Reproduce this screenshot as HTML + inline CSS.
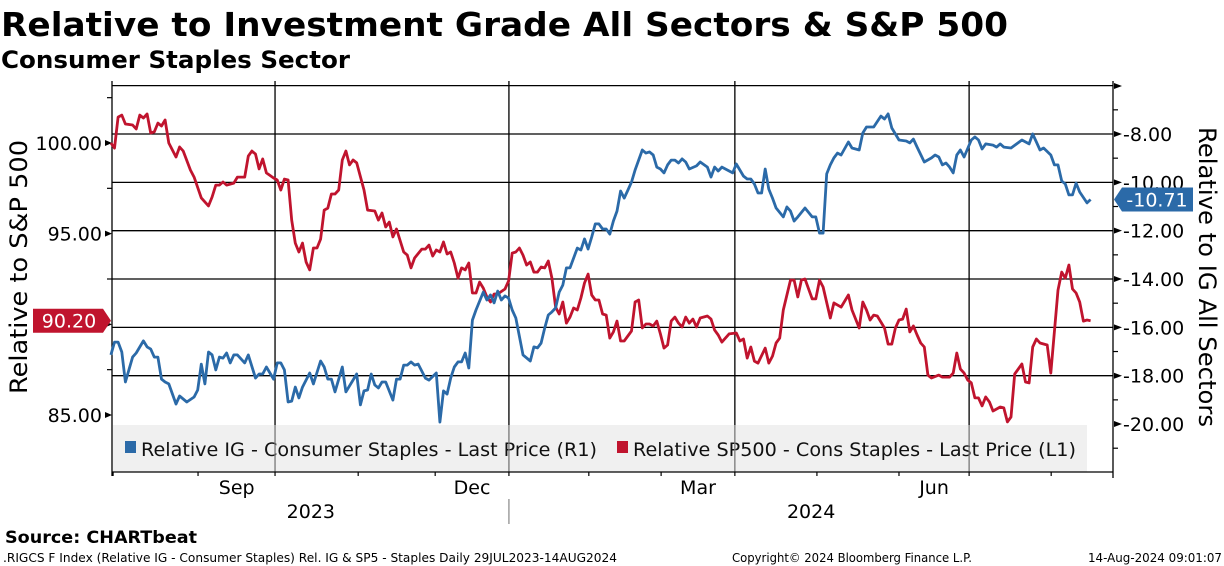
<!DOCTYPE html>
<html><head><meta charset="utf-8"><style>
html,body{margin:0;padding:0;background:#fff;}
svg{display:block;font-family:"DejaVu Sans","Liberation Sans",sans-serif;}
</style></head><body>
<svg id="chart" width="1224" height="566" viewBox="0 0 1224 566" xmlns="http://www.w3.org/2000/svg">
<rect x="0" y="0" width="1224" height="566" fill="#fff"/>
<text x="1" y="36" font-size="33" font-weight="bold" textLength="1007" lengthAdjust="spacingAndGlyphs">Relative to Investment Grade All Sectors &amp; S&amp;P 500</text>
<text x="1" y="68" font-size="24" font-weight="bold" textLength="349" lengthAdjust="spacingAndGlyphs">Consumer Staples Sector</text>
<g id="grid"></g>
<g id="legend">
  <rect x="113" y="425" width="974" height="47" fill="#f0f0f0"/>
  <g>
    <rect x="125" y="441" width="11" height="12" fill="#2b6aa8"/>
    <text x="141" y="456" font-size="19" fill="#111" textLength="456" lengthAdjust="spacingAndGlyphs">Relative IG - Consumer Staples - Last Price (R1)</text>
  </g>
  <g>
    <rect x="617" y="441" width="11" height="12" fill="#c0142e"/>
    <text x="633" y="456" font-size="19" fill="#111" textLength="443" lengthAdjust="spacingAndGlyphs">Relative SP500 - Cons Staples - Last Price (L1)</text>
  </g>
</g>
<g id="vgrid"></g>
<g id="axes"></g>
<g id="series"></g>
<g id="markers"></g>
<text transform="translate(27,394) rotate(-90)" font-size="24" textLength="254" lengthAdjust="spacingAndGlyphs">Relative to S&amp;P 500</text>
<text transform="translate(1199,127) rotate(90)" font-size="24" textLength="300" lengthAdjust="spacingAndGlyphs">Relative to IG All Sectors</text>
<text x="5" y="543" font-size="17" font-weight="bold" textLength="192" lengthAdjust="spacingAndGlyphs">Source: CHARTbeat</text>
<text x="3" y="562" font-size="12" textLength="614" lengthAdjust="spacingAndGlyphs">.RIGCS F Index (Relative IG - Consumer Staples) Rel. IG &amp; SP5 - Staples  Daily 29JUL2023-14AUG2024</text>
<text x="732" y="562" font-size="12" textLength="240" lengthAdjust="spacingAndGlyphs">Copyright© 2024 Bloomberg Finance L.P.</text>
<text x="1088" y="562" font-size="12" textLength="134" lengthAdjust="spacingAndGlyphs">14-Aug-2024 09:01:07</text>
</svg>
<script>
const redDays=[1,2,3,4,5,7,8,9,10,11,12,13,14,15,16,17,19,20,21,23,24,26,28,29,30,31,32,33,35,36,38,39,40,41,42,43,44,46,47,48,49,50,51,52,53,54,55,56,57,58,59,60,61,62,63,64,65,66,67,68,69,71,72,74,75,76,77,78,79,80,82,83,84,85,87,88,89,90,91,92,93,94,95,96,97,98,99,100,101,102,103,104,105,106,107,108,110,111,112,113,114,115,116,117,118,119,120,121,122,123,124,125,126,127,128,129,130,131,132,133,134,135,136,137,138,139,140,141,142,143,145,146,147,148,149,150,151,152,153,154,155,156,157,158,159,160,161,162,163,164,166,167,168,169,170,172,174,175,176,177,178,179,180,182,183,184,185,186,187,189,190,191,192,193,195,196,197,198,200,201,203,205,206,208,209,210,211,212,213,215,216,217,218,219,220,221,222,223,224,225,226,227,228,230,231,233,234,235,236,237,238,239,240,241,242,243,244,245,247,248,249,250,251,253,254,255,256,257,258,260,261,263,264,265,266,267,268,269,270,271,272];
const redValues=[100.00,99.72,101.43,101.54,101.05,100.99,100.77,101.54,101.38,101.60,100.55,100.61,101.10,100.94,101.27,100.00,99.23,99.78,99.56,98.51,98.12,96.97,96.53,97.02,97.68,97.68,97.85,97.68,97.79,98.12,98.12,99.28,99.56,99.39,98.57,99.12,98.35,98.07,97.96,97.41,98.01,97.96,95.75,94.48,93.99,94.48,93.44,93.00,94.21,94.21,94.70,96.30,96.41,97.19,97.19,97.41,99.06,99.56,98.79,99.06,98.90,97.41,96.30,96.25,95.75,96.14,95.37,95.64,94.82,95.26,93.99,93.82,93.11,93.66,94.15,94.15,94.37,93.77,94.10,93.99,94.54,93.88,93.99,93.38,92.55,93.11,93.00,93.38,91.73,91.73,92.33,92.00,91.51,91.23,91.67,91.67,91.95,92.39,93.93,93.99,94.21,93.82,93.27,93.44,92.88,92.88,93.16,93.11,93.49,92.55,90.95,90.57,91.23,90.07,90.40,90.90,90.79,91.45,92.28,92.77,91.62,91.34,91.34,90.57,90.51,89.24,89.58,90.18,89.08,89.08,89.63,91.23,91.34,89.80,90.02,90.02,89.91,90.18,89.47,88.69,88.86,90.18,90.40,90.07,89.85,90.40,90.07,90.29,89.85,90.35,90.46,90.29,89.68,89.41,89.02,89.47,89.52,89.08,89.19,88.14,88.75,87.97,87.86,88.69,87.86,88.25,88.97,89.24,90.79,92.44,92.44,91.51,92.44,92.50,91.40,91.40,92.44,92.06,90.35,91.18,90.95,91.62,90.79,89.80,91.23,90.79,90.24,90.51,90.46,89.80,88.91,88.91,89.80,90.24,90.29,90.84,89.58,89.91,89.41,88.97,88.75,87.20,87.04,87.20,87.09,87.09,87.31,88.42,87.53,87.31,86.93,86.77,85.94,85.94,85.50,86.00,85.72,85.22,85.44,85.39,84.62,84.89,87.26,87.81,86.82,86.77,88.75,89.19,88.97,88.86,87.31,91.89,92.88,92.55,93.27,91.95,91.73,91.23,90.18,90.24,90.20];
const blueDays=[1,2,3,4,5,7,8,10,11,12,13,14,15,16,17,19,20,22,24,25,26,27,28,29,30,31,32,33,34,35,36,38,39,41,42,43,44,46,47,48,49,50,51,52,53,54,56,57,59,60,61,62,63,65,66,69,70,71,72,73,74,75,76,77,79,80,81,82,83,84,85,86,88,89,91,92,93,94,95,96,97,98,99,100,101,102,104,105,106,107,108,109,110,111,112,113,115,117,118,119,120,121,122,123,124,125,126,127,128,130,131,132,133,134,135,136,137,138,139,140,141,142,143,144,145,146,148,149,150,151,152,153,154,155,156,157,158,159,160,161,163,164,166,167,168,169,170,173,174,176,177,178,179,180,181,182,183,184,185,187,188,189,190,191,193,195,196,197,198,199,200,201,202,203,205,206,208,209,210,212,214,215,216,217,219,221,222,223,224,226,228,229,230,231,232,233,234,235,236,237,239,240,241,242,243,245,246,247,248,250,253,255,256,257,258,259,261,262,263,264,265,266,267,268,269,271,272];
const blueValues=[-17.14,-16.61,-16.61,-17.02,-18.26,-17.23,-17.06,-16.56,-16.81,-16.90,-17.23,-17.23,-18.14,-18.26,-18.34,-19.17,-18.84,-19.09,-18.88,-18.59,-17.52,-18.34,-17.02,-17.14,-17.76,-17.23,-17.27,-17.06,-17.47,-17.14,-17.14,-17.47,-17.14,-18.10,-17.93,-17.93,-17.64,-18.14,-17.47,-17.47,-17.76,-19.09,-19.05,-18.47,-18.92,-18.47,-17.89,-18.34,-17.39,-17.64,-18.14,-18.14,-18.67,-17.64,-18.67,-17.93,-19.21,-18.63,-18.59,-17.93,-18.38,-18.51,-18.26,-18.26,-19.01,-18.14,-18.14,-17.56,-17.56,-17.43,-17.56,-17.52,-18.10,-18.18,-17.89,-19.92,-18.63,-18.76,-18.10,-17.64,-17.43,-17.43,-17.06,-17.68,-15.70,-15.28,-14.54,-14.87,-14.66,-14.99,-14.50,-14.87,-14.70,-14.79,-15.28,-15.61,-17.14,-17.39,-16.81,-16.85,-16.65,-16.03,-15.49,-15.36,-15.20,-14.54,-14.25,-13.54,-13.54,-12.72,-12.80,-12.34,-12.76,-12.26,-11.72,-11.72,-11.93,-11.93,-12.14,-11.60,-11.19,-10.36,-10.65,-10.32,-9.99,-9.49,-8.66,-8.79,-8.74,-8.87,-9.37,-9.45,-9.61,-9.28,-9.08,-9.08,-9.20,-9.03,-9.16,-9.45,-9.32,-9.16,-9.37,-9.78,-9.37,-9.53,-9.37,-9.61,-9.24,-9.74,-9.86,-9.86,-10.07,-10.44,-10.44,-9.45,-10.28,-10.65,-11.06,-11.43,-11.02,-11.19,-11.60,-11.43,-11.06,-11.43,-11.43,-12.10,-12.10,-9.65,-9.28,-8.99,-8.79,-8.87,-8.33,-8.58,-8.66,-7.96,-7.71,-7.71,-7.26,-7.38,-7.17,-7.75,-8.25,-8.29,-8.37,-8.21,-8.54,-9.16,-8.99,-8.87,-8.95,-9.28,-9.20,-9.37,-9.61,-8.87,-8.66,-8.95,-8.25,-8.12,-8.25,-8.62,-8.41,-8.46,-8.54,-8.41,-8.54,-8.58,-8.25,-8.41,-8.00,-8.33,-8.66,-8.58,-8.87,-9.28,-9.28,-9.94,-10.07,-10.52,-10.52,-10.03,-10.40,-10.85,-10.71];
const leftTicks=[100,95,90,85];
const leftTickLabels=["100.00","95.00","90.00","85.00"];
const leftMinorTicks=[102.5,97.5,92.5,87.5];
const rightTicks=[-8,-10,-12,-14,-16,-18,-20];
const rightTickLabels=["-8.00","-10.00","-12.00","-14.00","-16.00","-18.00","-20.00"];
const rightMinorTicks=[-7,-9,-11,-13,-15,-17,-19,-21];
const gridValuesRight=[-6,-8,-10,-12,-14,-16,-18];
const monthStartDays=[1.6,25.1,46.4,69.4,90.7,111.1,133.2,153.2,173.6,196.3,219.0,238.4,261.1];
const quarterGridDays=[46.4,111.1,173.6,238.4];
const monthLabels=["Sep","Dec","Mar","Jun"];
const monthLabelDays=[35.8,100.9,163.4,228.7];
const yearLabels=["2023","2024"];
const yearLabelDays=[56.3,194.7];
const yearSplitDay=111.1;
const redLast=90.20, blueLast=-10.71;

const NS="http://www.w3.org/2000/svg";
const PL=112, PR=1113, PT=86, PB=472;
function xDay(d){return 107.3+d*3.615;}
function yL(v){return 143+(100-v)*18.133;}
function yR(v){return 134+(-8-v)*24.17;}
function mk(tag,attrs,parent){const e=document.createElementNS(NS,tag);for(const k in attrs)e.setAttribute(k,attrs[k]);parent.appendChild(e);return e;}
const grid=document.getElementById('grid'), vgrid=document.getElementById('vgrid'), axes=document.getElementById('axes'), series=document.getElementById('series'), markers=document.getElementById('markers');

gridValuesRight.forEach(v=>{const l=mk('line',{x1:PL,x2:PR,y1:yR(v),y2:yR(v),stroke:'#000','stroke-width':1.3},grid);

});
quarterGridDays.forEach(d=>{const x=xDay(d);
const l=mk('line',{x1:x,x2:x,y1:PT-5,y2:425,stroke:'#000','stroke-width':1.3},vgrid);


const l2=mk('line',{x1:x,x2:x,y1:425,y2:PB,stroke:'#777','stroke-width':1.3},vgrid);

});

let a=mk('line',{x1:PL,x2:PL,y1:PT-5,y2:PB+4,stroke:'#000','stroke-width':1.3},axes);


a=mk('line',{x1:PR,x2:PR,y1:PT-5,y2:PB+6,stroke:'#000','stroke-width':1.3},axes);


a=mk('line',{x1:PL,x2:PR,y1:PB,y2:PB,stroke:'#000','stroke-width':1.3},axes);



leftTicks.forEach((v,i)=>{const y=yL(v);
const p=mk('polygon',{points:`${PL},${y} ${PL-7},${y-3} ${PL-7},${y+3}`,fill:'#000'},axes);


const t=mk('text',{x:PL-10,y:y+7,'font-size':19,'text-anchor':'end',fill:'#000'},axes);
t.textContent=leftTickLabels[i];

});
leftMinorTicks.forEach(v=>{const y=yL(v);const l=mk('line',{x1:PL-5,x2:PL,y1:y,y2:y,stroke:'#000','stroke-width':1.2},axes);

});
rightTicks.forEach((v,i)=>{const y=yR(v);
const p=mk('polygon',{points:`${PR+9},${y} ${PR+1},${y-3} ${PR+1},${y+3}`,fill:'#000'},axes);


const t=mk('text',{x:PR+10,y:y+7,'font-size':19,fill:'#000'},axes);
t.textContent=rightTickLabels[i];

});
rightMinorTicks.forEach(v=>{const y=yR(v);const l=mk('line',{x1:PR,x2:PR+5,y1:y,y2:y,stroke:'#000','stroke-width':1.2},axes);

});
const topArrow=mk('polygon',{points:`${PR+9},${PT} ${PR+1},${PT-3} ${PR+1},${PT+3}`,fill:'#000'},axes);



monthStartDays.forEach(d=>{const x=xDay(d);const l=mk('line',{x1:x,x2:x,y1:PB,y2:PB+4,stroke:'#000','stroke-width':1.2},axes);

});
monthLabels.forEach((m,i)=>{const t=mk('text',{x:xDay(monthLabelDays[i]),y:494,'font-size':19,'text-anchor':'middle'},axes);
t.textContent=m;

});
yearLabels.forEach((m,i)=>{const t=mk('text',{x:xDay(yearLabelDays[i]),y:518,'font-size':19,'text-anchor':'middle'},axes);
t.textContent=m;

});
const ys=mk('line',{x1:xDay(yearSplitDay),x2:xDay(yearSplitDay),y1:499,y2:524,stroke:'#888','stroke-width':1.2},axes);



function path(days,vals,yf){return days.map((d,i)=>(i?'L':'M')+xDay(d).toFixed(1)+','+yf(vals[i]).toFixed(1)).join('');}
const rp=mk('path',{d:path(redDays,redValues,yL),fill:'none',stroke:'#c0142e','stroke-width':2.8,'stroke-linejoin':'round'},series);


const bp=mk('path',{d:path(blueDays,blueValues,yR),fill:'none',stroke:'#2b6aa8','stroke-width':2.8,'stroke-linejoin':'round'},series);



let yr=yL(redLast);
const rm=mk('polygon',{points:`33,${yr-12} 103,${yr-12} 111,${yr} 103,${yr+12} 33,${yr+12}`,fill:'#c0142e'},markers);


const rt=mk('text',{x:69,y:yr+7,'font-size':19,'text-anchor':'middle',fill:'#fff'},markers);
rt.textContent=redLast.toFixed(2);


let yb=yR(blueLast);
const bm=mk('polygon',{points:`1114,${yb} 1122,${yb-12} 1193,${yb-12} 1193,${yb+12} 1122,${yb+12}`,fill:'#2b6aa8'},markers);


const bt=mk('text',{x:1157,y:yb+7,'font-size':19,'text-anchor':'middle',fill:'#fff'},markers);
bt.textContent=blueLast.toFixed(2);


</script>
</body></html>
